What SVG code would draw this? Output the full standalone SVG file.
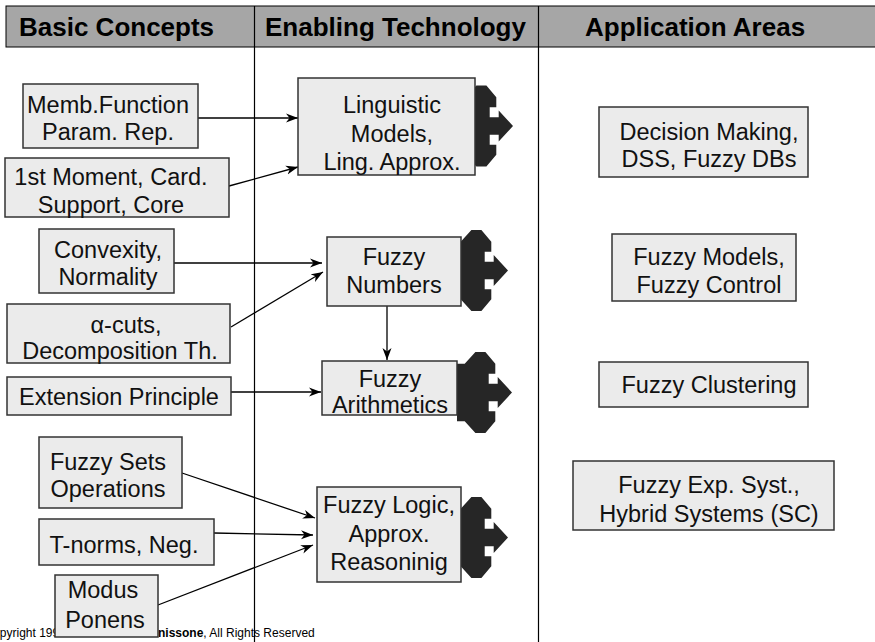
<svg xmlns="http://www.w3.org/2000/svg" width="875" height="642" viewBox="0 0 875 642">
<style>
.hdr{font-family:"Liberation Sans",Arial,sans-serif;font-weight:bold;font-size:26px;fill:#000}
.box{fill:#ebebeb;stroke:#333;stroke-width:1.5}
.t{font-family:"Liberation Sans",Arial,sans-serif;font-size:23.5px;fill:#111;text-anchor:middle}
.c{stroke:#000;stroke-width:1.3;fill:none;marker-end:url(#ah)}
.blk{fill:#262626}
.cp{font-family:"Liberation Sans",Arial,sans-serif;font-size:12px;fill:#000}
</style>
<defs>
<marker id="ah" markerUnits="userSpaceOnUse" markerWidth="13" markerHeight="10" refX="12" refY="5" orient="auto">
<path d="M0,0.5 L12,5 L0,9.5 L3.5,5 Z" fill="#000"/>
</marker>
<path id="quad" d="M0,0 L-14.3,-15.5 L-14.3,-8.7 L-23.3,-8.7 L-23.3,-18.8 L-16.7,-18.8 L-16.7,-28.8 L-26.6,-40.5 L-36.6,-40.5 L-47.3,-28.8 L-55,-28.8 L-55,28.8 L-47.3,28.8 L-36.6,40.5 L-26.6,40.5 L-16.7,28.8 L-16.7,18.8 L-23.3,18.8 L-23.3,8.7 L-14.3,8.7 L-14.3,15.5 Z"/>
</defs>
<rect width="875" height="642" fill="#fff"/>
<g id="header">
<rect x="6" y="6" width="875" height="41" fill="#a6a6a6" stroke="#000" stroke-width="1"/>
<text class="hdr" x="19" y="36">Basic Concepts</text>
<text class="hdr" x="265" y="36">Enabling Technology</text>
<text class="hdr" x="585" y="36">Application Areas</text>
</g>
<g id="dividers" stroke="#000" stroke-width="1.2">
<line x1="254.5" y1="6" x2="254.5" y2="642"/>
<line x1="538.5" y1="6" x2="538.5" y2="642"/>
</g>
<text class="cp" y="637"><tspan x="-15.5">Copyright 199</tspan><tspan x="142" font-weight="bold">Bonissone</tspan><tspan>, All Rights Reserved</tspan></text>
<g id="block-arrows" class="blk">
<use href="#quad" transform="translate(513,126)"/>
<use href="#quad" transform="translate(508,270.5)"/>
<use href="#quad" transform="translate(512,392.5)"/>
<use href="#quad" transform="translate(508,537.5)"/>
</g>
<g id="connectors">
<line class="c" x1="198" y1="118" x2="298" y2="118"/>
<line class="c" x1="229" y1="186" x2="298" y2="167"/>
<line class="c" x1="174" y1="263" x2="322" y2="263"/>
<line class="c" x1="231" y1="327" x2="323" y2="272"/>
<line class="c" x1="387" y1="306" x2="387" y2="360"/>
<line class="c" x1="231" y1="392" x2="321" y2="392"/>
<line class="c" x1="182" y1="473" x2="315" y2="518"/>
<line class="c" x1="214" y1="533" x2="313" y2="535"/>
<line class="c" x1="158" y1="605" x2="313" y2="545"/>
</g>
<g id="memb"><rect class="box" x="23" y="84" width="175" height="64"/><text class="t" x="108" y="113">Memb.Function</text><text class="t" x="108" y="140">Param. Rep.</text></g>
<g id="moment"><rect class="box" x="5" y="158" width="224" height="59"/><text class="t" x="111" y="185">1st Moment, Card.</text><text class="t" x="111" y="213">Support, Core</text></g>
<g id="convexity"><rect class="box" x="39" y="229" width="135" height="64"/><text class="t" x="108" y="258">Convexity,</text><text class="t" x="108" y="285">Normality</text></g>
<g id="alphacuts"><rect class="box" x="7" y="304" width="223" height="59"/><text class="t" x="126" y="333">α-cuts,</text><text class="t" x="120" y="359">Decomposition Th.</text></g>
<g id="extension"><rect class="box" x="7" y="377" width="224" height="38"/><text class="t" x="119" y="405">Extension Principle</text></g>
<g id="setsops"><rect class="box" x="39" y="437" width="143" height="71"/><text class="t" x="108" y="470">Fuzzy Sets</text><text class="t" x="108" y="497">Operations</text></g>
<g id="tnorms"><rect class="box" x="39" y="519" width="175" height="46"/><text class="t" x="124" y="553">T-norms, Neg.</text></g>
<g id="modus"><rect class="box" x="55" y="575" width="103" height="62"/><text class="t" x="103" y="598">Modus</text><text class="t" x="105" y="628">Ponens</text></g>
<g id="linguistic"><rect class="box" x="298" y="78" width="177" height="97"/><text class="t" x="392" y="113">Linguistic</text><text class="t" x="392" y="142">Models,</text><text class="t" x="392" y="170">Ling. Approx.</text></g>
<g id="numbers"><rect class="box" x="327" y="237" width="134" height="69"/><text class="t" x="394" y="265">Fuzzy</text><text class="t" x="394" y="293">Numbers</text></g>
<g id="arithmetics"><rect class="box" x="322" y="361" width="135" height="54"/><text class="t" x="390" y="387">Fuzzy</text><text class="t" x="390" y="413">Arithmetics</text></g>
<g id="logic"><rect class="box" x="317" y="487" width="144" height="95"/><text class="t" x="389" y="513">Fuzzy Logic,</text><text class="t" x="389" y="542">Approx.</text><text class="t" x="389" y="570">Reasoninig</text></g>
<g id="decision"><rect class="box" x="599" y="107" width="209" height="70"/><text class="t" x="709" y="140">Decision Making,</text><text class="t" x="709" y="167">DSS, Fuzzy DBs</text></g>
<g id="models"><rect class="box" x="612" y="234" width="184" height="67"/><text class="t" x="709" y="265">Fuzzy Models,</text><text class="t" x="709" y="293">Fuzzy Control</text></g>
<g id="clustering"><rect class="box" x="599" y="362" width="209" height="45"/><text class="t" x="709" y="393">Fuzzy Clustering</text></g>
<g id="expsyst"><rect class="box" x="573" y="461" width="261" height="69"/><text class="t" x="709" y="493">Fuzzy Exp. Syst.,</text><text class="t" x="709" y="522">Hybrid Systems (SC)</text></g>
</svg>
